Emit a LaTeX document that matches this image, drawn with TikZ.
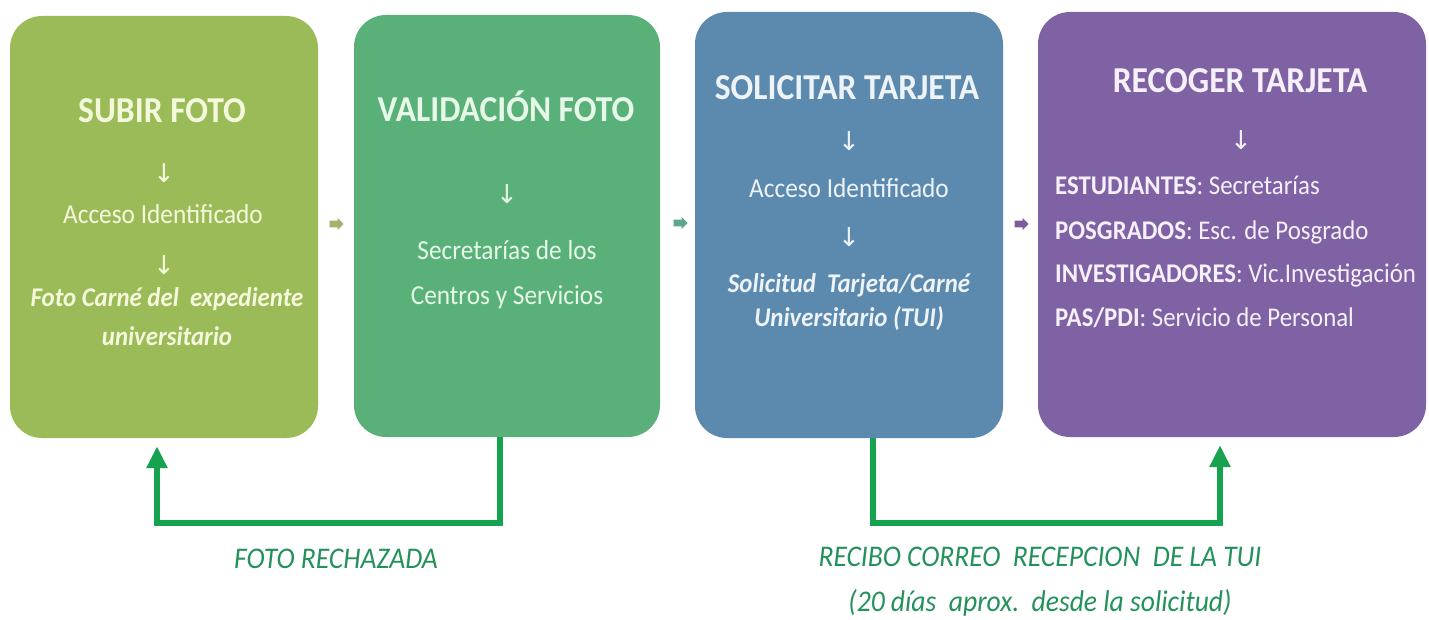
\documentclass[tikz,border=0pt]{standalone}
\usepackage{fontspec}
\setmainfont{Carlito}
\newfontfamily\arrowfont{DejaVu Sans}
\usetikzlibrary{arrows.meta,shapes.arrows,calc}
\definecolor{cOlive}{HTML}{9BBB59}
\definecolor{cGreen}{HTML}{5AB079}
\definecolor{cBlue}{HTML}{5B8AAE}
\definecolor{cPurple}{HTML}{7F62A3}
\definecolor{tOlive}{HTML}{F4F9DC}
\definecolor{tGreen}{HTML}{E6F8E8}
\definecolor{tBlue}{HTML}{EEF3F8}
\definecolor{tPurple}{HTML}{F5F0FA}
\definecolor{fbGreen}{HTML}{17A24F}
\definecolor{lblGreen}{HTML}{23915A}
\definecolor{mOlive}{HTML}{A3B36E}
\definecolor{mGreen}{HTML}{5CA88C}
\definecolor{mPurple}{HTML}{7E5C99}
\begin{document}
\begin{tikzpicture}[x=1pt,y=-1pt,
  box/.style={rectangle, rounded corners=32pt, inner sep=0pt, draw=none},
  ttl/.style={font=\fontsize{36.5}{40}\selectfont\bfseries, xscale=0.92, anchor=base, inner sep=0pt},
  txt/.style={font=\fontsize{27.5}{30}\selectfont, xscale=0.92, anchor=base, inner sep=0pt},
  itx/.style={font=\fontsize{27}{30}\selectfont\bfseries\itshape, xscale=0.92, anchor=base, inner sep=0pt},
  dar/.style={font=\arrowfont\fontsize{26}{28}\selectfont, inner sep=0pt, anchor=center},
  lst/.style={font=\fontsize{27}{30}\selectfont, xscale=0.92, anchor=base west, inner sep=0pt, text=tPurple},
  mini/.style={single arrow, minimum height=14pt, minimum width=12pt, single arrow head extend=1pt, inner sep=1pt, draw=none},
  fb/.style={line width=6pt, draw=fbGreen, -{Triangle[length=22pt,width=20pt]}},
  lbl/.style={font=\fontsize{30}{34}\selectfont\itshape, xscale=0.92, anchor=base, inner sep=0pt, text=lblGreen}
]
\useasboundingbox (0,0) rectangle (1429,620);
\fill[white] (0,0) rectangle (1429,620);

% boxes
\node[box, fill=cOlive, minimum width=308pt, minimum height=422pt] (b1) at (164,227) {};
\node[box, fill=cGreen, minimum width=306pt, minimum height=422pt] (b2) at (507,226) {};
\node[box, fill=cBlue, minimum width=308pt, minimum height=426pt] (b3) at (849,225) {};
\node[box, fill=cPurple, minimum width=388pt, minimum height=425pt] (b4) at (1232,224.5) {};

% box 1
\node[ttl, text=tOlive] (t1) at (162,123) {SUBIR FOTO};
\node[dar, text=tOlive] (a11) at (164,173) {↓};
\node[txt, text=tOlive] (s11) at (163,224) {Acceso Identificado};
\node[dar, text=tOlive] (a12) at (164,265) {↓};
\node[itx, text=tOlive] (s12) at (167,306) {Foto Carné del\ \ expediente};
\node[itx, text=tOlive] (s13) at (167,345) {universitario};

% box 2
\node[ttl, text=tGreen] (t2) at (506,122) {VALIDACIÓN FOTO};
\node[dar, text=tGreen] (a21) at (507,194) {↓};
\node[txt, text=tGreen] (s21) at (507,260) {Secretarías de los};
\node[txt, text=tGreen] (s22) at (507,305) {Centros y Servicios};

% box 3
\node[ttl, text=tBlue] (t3) at (847,100) {SOLICITAR TARJETA};
\node[dar, text=tBlue] (a31) at (849,141) {↓};
\node[txt, text=tBlue] (s31) at (849,198) {Acceso Identificado};
\node[dar, text=tBlue] (a32) at (849,237) {↓};
\node[itx, text=tBlue] (s32) at (849,293) {Solicitud\ \ Tarjeta/Carné};
\node[itx, text=tBlue] (s33) at (849,326) {Universitario (TUI)};

% box 4
\node[ttl, text=tPurple] (t4) at (1240,93) {RECOGER TARJETA};
\node[dar, text=tPurple] (a41) at (1241,140) {↓};
\node[lst] (s41) at (1055,195) {\textbf{ESTUDIANTES}: Secretarías};
\node[lst] (s42) at (1055,240) {\textbf{POSGRADOS}: Esc. de Posgrado};
\node[lst] (s43) at (1055,283) {\textbf{INVESTIGADORES}: Vic.Investigación};
\node[lst] (s44) at (1055,326) {\textbf{PAS/PDI}: Servicio de Personal};

% small arrows between boxes
\node[mini, fill=mOlive] (m1) at (335,224) {};
\node[mini, fill=mGreen] (m2) at (679,223) {};
\node[mini, fill=mPurple] (m3) at (1020,224) {};

% feedback connectors
\coordinate (c1) at (157,523);
\coordinate (c2) at (1220,523);
\draw[fb] ($(b2.south)+(-7,0)$) |- (c1) -- ($(b1.south -| c1)+(0,8)$);
\draw[fb] ($(b3.south)+(24,0)$) |- (c2) -- ($(b4.south -| c2)+(0,8)$);

% labels
\node[lbl] (l1) at (336,568) {FOTO RECHAZADA};
\node[lbl] (l2) at (1040,566) {RECIBO CORREO\ \ RECEPCION\ \ DE LA TUI};
\node[lbl] (l3) at (1040,611) {(20 días\ \ aprox.\ \ desde la solicitud)};
\end{tikzpicture}
\end{document}
